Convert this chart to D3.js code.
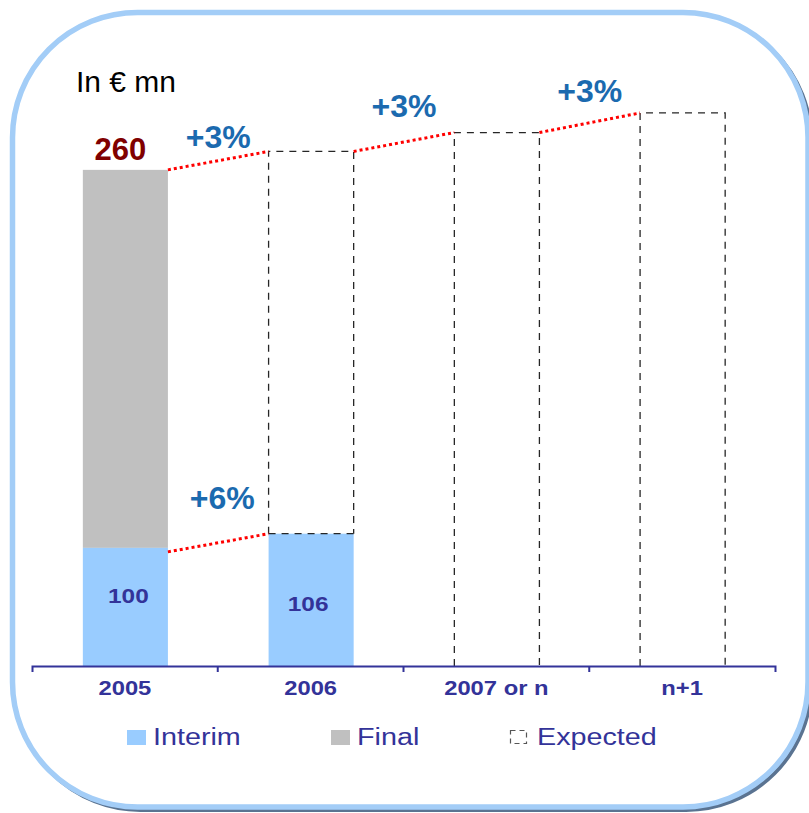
<!DOCTYPE html>
<html>
<head>
<meta charset="utf-8">
<script src="https://cdn.jsdelivr.net/npm/d3@7/dist/d3.min.js"></script>
<style>
  html, body { margin: 0; padding: 0; background: #ffffff; }
  svg { display: block; font-family: "Liberation Sans", Arial, Helvetica, sans-serif; }
</style>
</head>
<body>
<svg id="chart" width="809" height="813"></svg>
<script>
// ---- data (€ mn) ----
const categories    = ["2005", "2006", "2007 or n", "n+1"];
const interim       = [100, 106, null, null];
const finalTotal    = [260, null, null, null];
const expectedTotal = [null, 267.8, 275.8, 284.1];
const totalGrowth   = ["+3%", "+3%", "+3%"];
const interimGrowth = ["+6%"];
const legendLabels  = ["Interim", "Final", "Expected"];
const unitLabel     = "In € mn";

// ---- styling ----
const C = {
  interim: "#99ccff",
  final: "#c0c0c0",
  axis: "#333399",
  growth: "#1b6aaf",
  total: "#800000",
  dashed: "#262626",
  dotted: "#ff0000",
  frameLight: "#a3cdf7",
  frameDark: "#5a7391"
};
const TEXT_STRETCH = 1.22;

const svg = d3.select("#chart");

// rounded frame with an offset dark edge
svg.append("rect")
  .attr("x", 15.5).attr("y", 15.5).attr("width", 795.5).attr("height", 794.5)
  .attr("rx", 125).attr("ry", 125)
  .attr("fill", "none").attr("stroke", C.frameDark).attr("stroke-width", 4);
svg.append("rect")
  .attr("x", 12.5).attr("y", 12.5).attr("width", 795.5).attr("height", 794.5)
  .attr("rx", 125).attr("ry", 125)
  .attr("fill", "#ffffff").attr("stroke", C.frameLight).attr("stroke-width", 5.5);

// ---- scales ----
const x = d3.scaleBand().domain(categories).range([32, 775]).padding(0);
const y = d3.scaleLinear().domain([50, 290]).range([666, 99]);
const barW = x.bandwidth() * 0.458;
const barX = c => x(c) + (x.bandwidth() - barW) / 2 + 0.5;
const yBase = y(y.domain()[0]);

const plot = svg.append("g");

// expected boxes (dashed outline, open at the axis)
categories.forEach((c, i) => {
  if (expectedTotal[i] == null) return;
  const x0 = barX(c), x1 = barX(c) + barW, yt = y(expectedTotal[i]);
  const yb = interim[i] != null ? y(interim[i]) : yBase;
  const p = d3.path();
  p.moveTo(x0, yb); p.lineTo(x0, yt); p.lineTo(x1, yt); p.lineTo(x1, yb);
  plot.append("path").attr("d", p.toString())
    .attr("fill", "none").attr("stroke", C.dashed)
    .attr("stroke-width", 1.3).attr("stroke-dasharray", "7,6");
});

// final (stacked on interim)
categories.forEach((c, i) => {
  if (finalTotal[i] == null) return;
  plot.append("rect")
    .attr("x", barX(c)).attr("y", y(finalTotal[i]))
    .attr("width", barW).attr("height", y(interim[i]) - y(finalTotal[i]))
    .attr("fill", C.final);
});

// interim bars
categories.forEach((c, i) => {
  if (interim[i] == null) return;
  plot.append("rect")
    .attr("x", barX(c)).attr("y", y(interim[i]))
    .attr("width", barW).attr("height", yBase - y(interim[i]))
    .attr("fill", C.interim);
});

// dashed lower edge of an expected box resting on an interim bar
categories.forEach((c, i) => {
  if (expectedTotal[i] == null || interim[i] == null) return;
  plot.append("line")
    .attr("x1", barX(c)).attr("x2", barX(c) + barW)
    .attr("y1", y(interim[i])).attr("y2", y(interim[i]))
    .attr("stroke", C.dashed).attr("stroke-width", 1.3).attr("stroke-dasharray", "7,6");
});

// ---- growth connectors ----
const totals = categories.map((c, i) => finalTotal[i] != null ? finalTotal[i] : expectedTotal[i]);
const totalLift = [13, 25, 21];
for (let i = 0; i < categories.length - 1; i++) {
  const x1 = barX(categories[i]) + barW, x2 = barX(categories[i + 1]);
  const y1 = y(totals[i]), y2 = y(totals[i + 1]);
  plot.append("line")
    .attr("x1", x1).attr("y1", y1).attr("x2", x2).attr("y2", y2)
    .attr("stroke", C.dotted).attr("stroke-width", 3).attr("stroke-dasharray", "3,3");
  plot.append("text")
    .attr("x", (x1 + x2) / 2).attr("y", (y1 + y2) / 2 - totalLift[i])
    .attr("text-anchor", "middle").attr("font-size", 32).attr("font-weight", "bold")
    .attr("fill", C.growth).text(totalGrowth[i]);
}
{
  const x1 = barX(categories[0]) + barW, x2 = barX(categories[1]);
  const y1 = y(interim[0]), y2 = y(interim[1]);
  plot.append("line")
    .attr("x1", x1).attr("y1", y1 + 4).attr("x2", x2).attr("y2", y2)
    .attr("stroke", C.dotted).attr("stroke-width", 3).attr("stroke-dasharray", "3,3");
  plot.append("text")
    .attr("x", (x1 + x2) / 2 + 4).attr("y", (y1 + y2) / 2 - 32)
    .attr("text-anchor", "middle").attr("font-size", 32).attr("font-weight", "bold")
    .attr("fill", C.growth).text(interimGrowth[0]);
}

// total value above 2005
plot.append("text")
  .attr("x", barX(categories[0]) + barW / 2 - 5).attr("y", y(finalTotal[0]) - 10)
  .attr("text-anchor", "middle").attr("font-size", 31).attr("font-weight", "bold")
  .attr("fill", C.total).text(finalTotal[0]);

// interim values inside bars
const valueDy = [-4, 11];
categories.forEach((c, i) => {
  if (interim[i] == null) return;
  const cx = barX(c) + barW / 2 + (i === 0 ? 3 : -3);
  const cy = (y(interim[i]) + yBase) / 2 + valueDy[i];
  plot.append("text")
    .attr("transform", `translate(${cx},${cy}) scale(${TEXT_STRETCH},1)`)
    .attr("text-anchor", "middle").attr("font-size", 20).attr("font-weight", "bold")
    .attr("fill", C.axis).text(interim[i]);
});

// ---- axis ----
const axisG = svg.append("g").attr("transform", `translate(0,${yBase})`)
  .call(d3.axisBottom(x).tickSizeInner(0).tickSizeOuter(6).tickPadding(29));
axisG.select(".domain").attr("stroke", C.axis).attr("stroke-width", 2);
axisG.selectAll(".tick line").remove();
axisG.selectAll(".tick text")
  .attr("fill", C.axis).attr("font-size", 19.5).attr("font-weight", "bold")
  .attr("font-family", "'Liberation Sans', Arial, sans-serif")
  .attr("dy", 0).attr("transform", `scale(${TEXT_STRETCH},1)`);
// boundary ticks between categories
categories.slice(1).forEach(c => {
  axisG.append("line")
    .attr("x1", x(c)).attr("x2", x(c)).attr("y1", 0).attr("y2", 6)
    .attr("stroke", C.axis).attr("stroke-width", 2);
});

// unit label
svg.append("text")
  .attr("x", 76).attr("y", 92).attr("font-size", 30).attr("fill", "#000")
  .text(unitLabel);

// ---- legend ----
const legend = svg.append("g");
const legendX = [127, 331, 510];
const legendY = 730;
legend.append("rect").attr("x", legendX[0]).attr("y", legendY)
  .attr("width", 19).attr("height", 15).attr("fill", C.interim);
legend.append("rect").attr("x", legendX[1]).attr("y", legendY)
  .attr("width", 19).attr("height", 15).attr("fill", C.final);
legend.append("rect").attr("x", legendX[2] + 0.5).attr("y", legendY + 0.5)
  .attr("width", 16).attr("height", 13).attr("fill", "none")
  .attr("stroke", "#555").attr("stroke-width", 1.2).attr("stroke-dasharray", "5,4");
legendLabels.forEach((t, i) => {
  legend.append("text")
    .attr("transform", `translate(${legendX[i] + (i === 2 ? 27 : 26)},745) scale(1.25,1)`)
    .attr("font-size", 23).attr("fill", C.axis).text(t);
});
</script>
</body>
</html>
